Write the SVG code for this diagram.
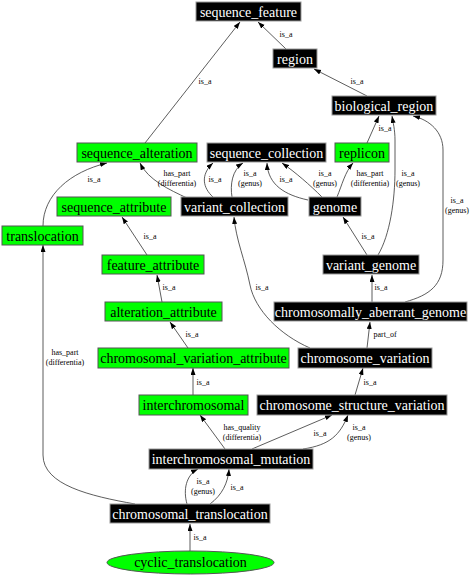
<svg xmlns="http://www.w3.org/2000/svg" width="473" height="576" viewBox="0 0 473 576">
<style>
.bk rect{fill:#000;stroke:#999;stroke-width:1}
.gr rect,.gr ellipse{fill:#00ff00;stroke:#555;stroke-width:1}
.bk text{fill:#fff}
.gr text{fill:#000}
.n text{font-family:"Liberation Serif",serif;font-size:14px;text-anchor:middle}
#edges path{fill:none;stroke:#333;stroke-width:0.8;marker-end:url(#ah)}
#edges text{font-family:"Liberation Serif",serif;font-size:8px;text-anchor:middle;fill:#000}
</style>
<defs>
<marker id="ah" markerUnits="userSpaceOnUse" markerWidth="7" markerHeight="6" refX="7" refY="2.5" orient="auto">
<path d="M0,0 L7,2.5 L0,5 z" fill="#000"/>
</marker>
</defs>
<rect width="473" height="576" fill="#fff"/>
<g id="edges">
<path d="M145,143 L240,22"/><text x="205" y="84">is_a</text>
<path d="M286,49 L258,22"/><text x="286" y="37">is_a</text>
<path d="M367,96 L314,69"/><text x="357" y="84">is_a</text>
<path d="M367,143 L379,116"/><text x="385" y="131">is_a</text>
<path d="M378,255 C390,235 395,200 395,170 L395,140 C395,130 393,122 392,116"/><text x="408" y="176">is_a</text><text x="408" y="185.5">(genus)</text>
<path d="M405,302 C430,295 443,285 443,260 L443,150 C443,132 430,120 413,116"/><text x="457" y="203">is_a</text><text x="457" y="212.5">(genus)</text>
<path d="M187,198 C170,190 148,180 140,163"/><text x="177" y="176">has_part</text><text x="177" y="185.5">(differentia)</text>
<path d="M213,197 C203,188 200,175 213,163"/><text x="215" y="182">is_a</text>
<path d="M232,197 C230,185 232,170 243,163"/><text x="250" y="176">is_a</text><text x="250" y="185.5">(genus)</text>
<path d="M308,200 C285,195 268,185 267,163"/><text x="286" y="182">is_a</text>
<path d="M322,197 C310,185 295,172 282,163"/><text x="325" y="176">is_a</text><text x="325" y="185.5">(genus)</text>
<path d="M337,197 C342,185 345,172 353,163"/><text x="370" y="176">has_part</text><text x="370" y="185.5">(differentia)</text>
<path d="M43,226 C43,195 70,172 107,163"/><text x="94" y="182">is_a</text>
<path d="M147,255 L122,217"/><text x="150" y="239">is_a</text>
<path d="M367,255 L343,217"/><text x="368" y="239">is_a</text>
<path d="M310,348 C280,335 255,310 250,285 C245,260 236,240 234,217"/><text x="262" y="290">is_a</text>
<path d="M162,302 L157,275"/><text x="169" y="290">is_a</text>
<path d="M372,302 L372,275"/><text x="381" y="290">is_a</text>
<path d="M188,348 L170,322"/><text x="192" y="337">is_a</text>
<path d="M367,348 L370,322"/><text x="385" y="337">part_of</text>
<path d="M193,395 L193,368"/><text x="203" y="385">is_a</text>
<path d="M355,395 L363,368"/><text x="370" y="385">is_a</text>
<path d="M225,449 L200,415"/><text x="242" y="430">has_quality</text><text x="242" y="439.5">(differentia)</text>
<path d="M252,449 L332,415"/><text x="320" y="436">is_a</text>
<path d="M303,449 C330,445 340,435 348,415"/><text x="359" y="430">is_a</text><text x="359" y="439.5">(genus)</text>
<path d="M187,504 C183,490 186,475 198,469"/><text x="203" y="484">is_a</text><text x="203" y="493.5">(genus)</text>
<path d="M210,504 C222,495 228,483 229,469"/><text x="237" y="490">is_a</text>
<path d="M135,504 C90,496 43,485 43,455 L43,245"/><text x="65" y="355">has_part</text><text x="65" y="364.5">(differentia)</text>
<path d="M190,551 L190,524"/><text x="200" y="540">is_a</text>
</g>
<g id="sequence_feature" class="n bk"><rect x="196" y="2" width="105" height="19"/><text x="248.5" y="16.5">sequence_feature</text></g>
<g id="region" class="n bk"><rect x="273" y="49" width="44" height="19"/><text x="295" y="63.5">region</text></g>
<g id="biological_region" class="n bk"><rect x="332" y="96" width="104" height="19"/><text x="384" y="110.5">biological_region</text></g>
<g id="sequence_alteration" class="n gr"><rect x="77" y="143" width="120" height="19"/><text x="137" y="157.5">sequence_alteration</text></g>
<g id="sequence_collection" class="n bk"><rect x="207" y="143" width="119" height="19"/><text x="266.5" y="157.5">sequence_collection</text></g>
<g id="replicon" class="n gr"><rect x="335" y="143" width="54" height="19"/><text x="362" y="157.5">replicon</text></g>
<g id="sequence_attribute" class="n gr"><rect x="57" y="197" width="114" height="19"/><text x="114" y="211.5">sequence_attribute</text></g>
<g id="variant_collection" class="n bk"><rect x="181" y="197" width="107" height="19"/><text x="234.5" y="211.5">variant_collection</text></g>
<g id="genome" class="n bk"><rect x="309" y="197" width="52" height="19"/><text x="335" y="211.5">genome</text></g>
<g id="translocation" class="n gr"><rect x="2" y="226" width="81" height="19"/><text x="42.5" y="240.5">translocation</text></g>
<g id="feature_attribute" class="n gr"><rect x="102" y="255" width="102" height="19"/><text x="153" y="269.5">feature_attribute</text></g>
<g id="variant_genome" class="n bk"><rect x="323" y="255" width="96" height="19"/><text x="371" y="269.5">variant_genome</text></g>
<g id="alteration_attribute" class="n gr"><rect x="105" y="302" width="117" height="19"/><text x="163.5" y="316.5">alteration_attribute</text></g>
<g id="chromosomally_aberrant_genome" class="n bk"><rect x="274" y="302" width="193" height="19"/><text x="370.5" y="316.5">chromosomally_aberrant_genome</text></g>
<g id="chromosomal_variation_attribute" class="n gr"><rect x="98" y="348" width="191" height="20"/><text x="193.5" y="363">chromosomal_variation_attribute</text></g>
<g id="chromosome_variation" class="n bk"><rect x="298" y="348" width="134" height="20"/><text x="365" y="363">chromosome_variation</text></g>
<g id="interchromosomal" class="n gr"><rect x="139" y="395" width="109" height="20"/><text x="193.5" y="410">interchromosomal</text></g>
<g id="chromosome_structure_variation" class="n bk"><rect x="257" y="395" width="190" height="20"/><text x="352" y="410">chromosome_structure_variation</text></g>
<g id="interchromosomal_mutation" class="n bk"><rect x="149" y="449" width="164" height="20"/><text x="231" y="464">interchromosomal_mutation</text></g>
<g id="chromosomal_translocation" class="n bk"><rect x="110" y="504" width="160" height="19"/><text x="190" y="518.5">chromosomal_translocation</text></g>
<g id="cyclic_translocation" class="n gr"><ellipse cx="190.5" cy="562.5" rx="83.5" ry="11.5"/><text x="190.5" y="567">cyclic_translocation</text></g>
</svg>
